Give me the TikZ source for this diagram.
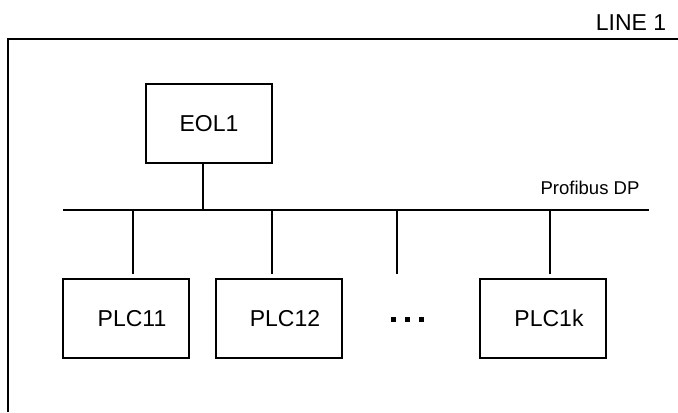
\documentclass[tikz,border=0pt]{standalone}
\usepackage{fontspec}
\setmainfont{Liberation Sans}
\begin{document}
\begin{tikzpicture}[x=0.75pt,y=-0.75pt,
  bigtext/.style={font=\fontsize{17.25pt}{20pt}\selectfont},
  smalltext/.style={font=\fontsize{13.9pt}{16pt}\selectfont},
  box/.style={draw, line width=1.2pt, minimum width=94.5pt, minimum height=59.25pt, inner sep=0pt, bigtext},
  frameline/.style={line width=1.6pt},
  busline/.style={line width=2.1pt},
  wire/.style={line width=1.6pt},
  dotsq/.style={fill=black, minimum size=3.75pt, inner sep=0pt}]
\useasboundingbox (0,0) rectangle (678,412);
% frame
\draw[frameline] (8,412) -- (8,39) -- (678,39);
\node[bigtext, anchor=base] (line1) at (631,30) {LINE 1};
% nodes
\node[box] (eol) at (209,123.5) {EOL1};
\node[box] (plc11) at (126,318.5) {\hspace*{9pt}PLC11};
\node[box] (plc12) at (279,318.5) {\hspace*{9pt}PLC12};
\node[box] (plc1k) at (543,318.5) {\hspace*{9pt}PLC1k};
\node[dotsq] (dot1) at (393.5,319.5) {};
\node[dotsq] (dot2) at (407.5,319.5) {};
\node[dotsq] (dot3) at (421.5,319.5) {};
% bus
\coordinate (busL) at (63,210);
\coordinate (busR) at (649,210);
\draw[busline] (busL) -- (busR);
\node[smalltext, anchor=base] (pdp) at (590,194) {Profibus DP};
% stem from EOL1
\coordinate (s0) at (203,210);
\draw[wire] (eol.south -| s0) -- (s0);
% drops
\foreach \i/\x in {1/133,2/272,3/397,4/550}{
  \coordinate (t\i) at (\x,210);
  \coordinate (b\i) at (\x,274);
  \draw[wire] (t\i) -- (b\i);
}
\end{tikzpicture}
\end{document}
